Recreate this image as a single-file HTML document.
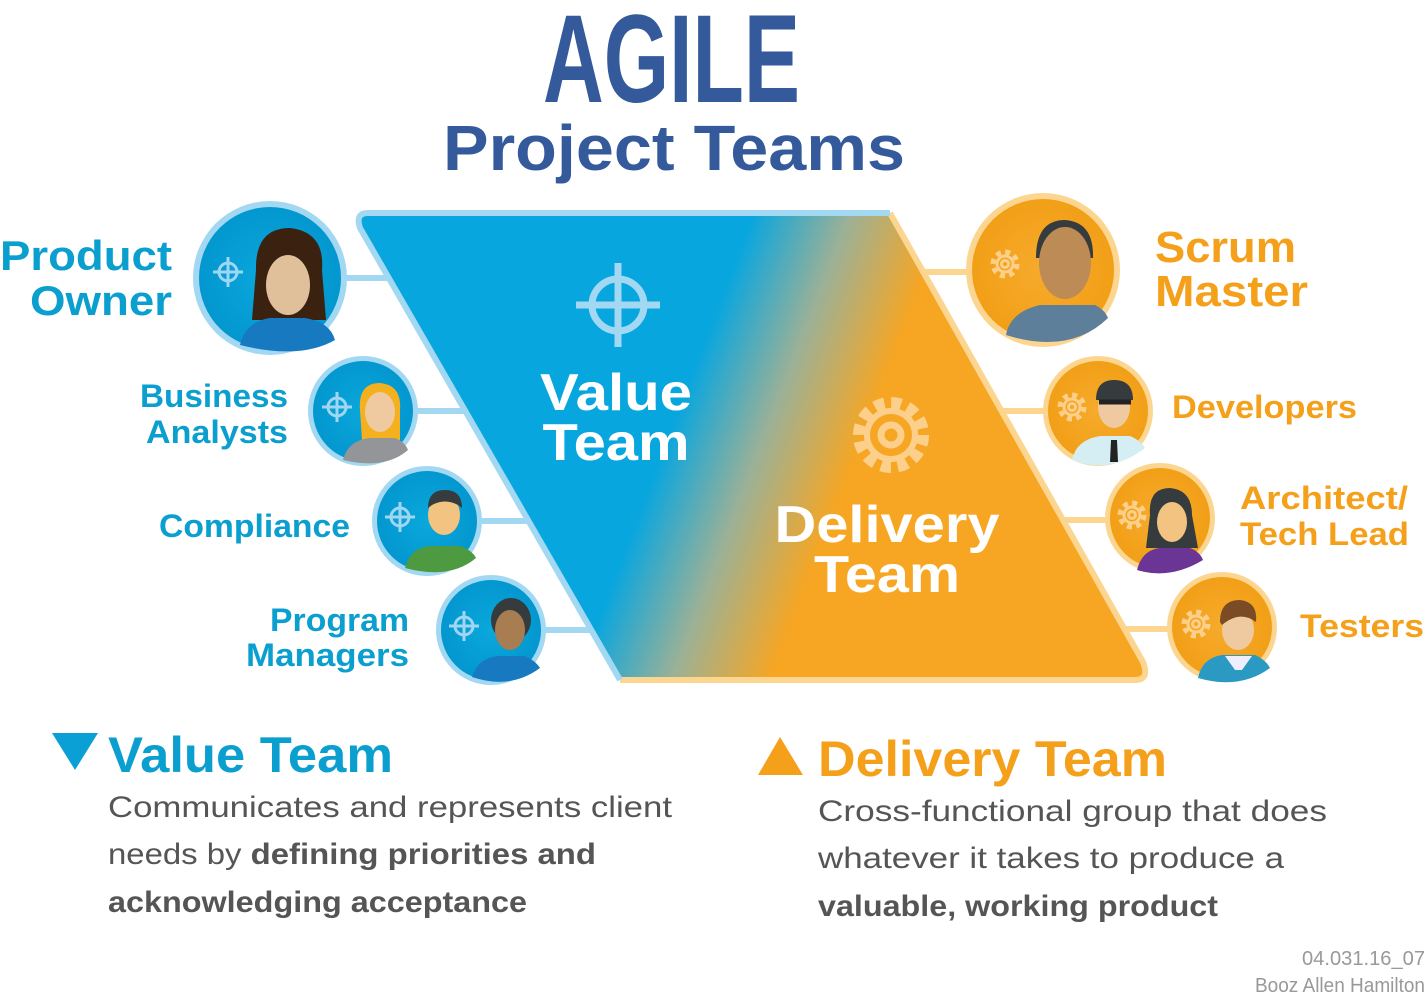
<!DOCTYPE html>
<html><head><meta charset="utf-8"><style>
html,body{margin:0;padding:0;background:#fff;}
svg{display:block;font-family:"Liberation Sans",sans-serif;font-weight:bold;}
</style></head><body>
<svg width="1428" height="994" viewBox="0 0 1428 994" xmlns="http://www.w3.org/2000/svg">
<defs>
<linearGradient id="g" gradientUnits="userSpaceOnUse" x1="680" y1="405" x2="850" y2="470">
<stop offset="0" stop-color="#08a6df"/><stop offset="0.5" stop-color="#9cb196"/><stop offset="1" stop-color="#f6a623"/></linearGradient>
<radialGradient id="bl" cx="0.5" cy="0.5" r="0.5"><stop offset="0" stop-color="#0aa8dc"/><stop offset="1" stop-color="#0397cf"/></radialGradient>
<radialGradient id="or" cx="0.5" cy="0.5" r="0.5"><stop offset="0" stop-color="#f6ab2c"/><stop offset="1" stop-color="#f29f17"/></radialGradient>
<g id="tgt" fill="none" stroke="#9fd6f2" stroke-width="3"><circle r="9"/><path d="M-15 0H15M0-15V15"/></g>
<g id="gear" fill="none" stroke="#fcd08a"><circle r="12" stroke-dasharray="5 4.4" stroke-width="5"/><circle r="8" stroke-width="3"/><circle r="3.5" stroke-width="3"/></g>
</defs>
<!-- Title -->
<text x="543" y="102" font-size="125" fill="#345a9c" textLength="257" lengthAdjust="spacingAndGlyphs">AGILE</text>
<text x="443" y="170" font-size="64" fill="#345a9c" textLength="462" lengthAdjust="spacingAndGlyphs">Project Teams</text>
<!-- connectors -->
<g stroke-width="6">
<path d="M340 278H400M410 411H470M475 521H530M540 630H600" stroke="#a3d8f3"/>
<path d="M920 272H970M1000 411H1050M1065 520H1110M1125 629H1170" stroke="#fcd690"/>
</g>
<!-- parallelogram -->
<path d="M368 213H890L1143 662Q1150 680 1135 680H620L360 228Q355 213 368 213Z" fill="url(#g)"/>
<path d="M890 213L1143 662Q1150 680 1135 680H620" fill="none" stroke="#fcd690" stroke-width="6"/>
<path d="M620 680L360 228Q355 213 368 213H890" fill="none" stroke="#a3d8f3" stroke-width="6"/>
<g transform="translate(618,305)" fill="none" stroke="#a3d8f3" stroke-width="7"><circle r="26"/><path d="M-42 0H42M0-42V42"/></g>
<g transform="translate(891,435)" fill="none" stroke="#fcd08a"><circle r="32" stroke-dasharray="10 6.75" stroke-width="12"/><circle r="24" stroke-width="6"/><circle r="10" stroke-width="7"/></g>
<text font-size="52" fill="#fff" text-anchor="middle"><tspan x="616" y="410" textLength="152" lengthAdjust="spacingAndGlyphs">Value</tspan></text>
<text font-size="52" fill="#fff" text-anchor="middle"><tspan x="616" y="460" textLength="147" lengthAdjust="spacingAndGlyphs">Team</tspan></text>
<text font-size="52" fill="#fff" text-anchor="middle"><tspan x="887" y="542" textLength="225" lengthAdjust="spacingAndGlyphs">Delivery</tspan></text>
<text font-size="52" fill="#fff" text-anchor="middle"><tspan x="887" y="592" textLength="146" lengthAdjust="spacingAndGlyphs">Team</tspan></text>
<!-- left avatars -->
<g>
<circle cx="270" cy="278" r="77" fill="#a3d8f3"/><circle cx="270" cy="278" r="71" fill="url(#bl)"/>
<use href="#tgt" x="228" y="272"/>
<path d="M256 270Q255 228 290 228Q325 232 322 270L326 320H252Z" fill="#3b2110"/>
<ellipse cx="288" cy="285" rx="22" ry="30" fill="#e0c09a"/>
<path d="M240 345Q245 322 270 318H305Q330 322 335 340Q300 360 240 345Z" fill="#1779c0"/>
</g>
<g>
<circle cx="363" cy="411" r="55" fill="#a3d8f3"/><circle cx="363" cy="411" r="50" fill="url(#bl)"/>
<use href="#tgt" x="337" y="407"/>
<path d="M360 410Q358 383 380 383Q402 385 400 410L400 440H362Z" fill="#f5b01f"/>
<ellipse cx="380" cy="412" rx="15" ry="20" fill="#efcaa0"/>
<path d="M343 460Q348 440 370 438H395Q405 442 408 450Q385 470 343 460Z" fill="#939598"/>
</g>
<g>
<circle cx="427" cy="521" r="55" fill="#a3d8f3"/><circle cx="427" cy="521" r="50" fill="url(#bl)"/>
<use href="#tgt" x="400" y="517"/>
<ellipse cx="444" cy="515" rx="16" ry="20" fill="#f3c382"/>
<path d="M428 508Q428 490 445 490Q462 490 462 508L458 505Q445 498 432 505Z" fill="#363c3d"/>
<path d="M405 568Q410 548 430 546H460Q472 550 476 558Q450 580 405 568Z" fill="#4d9a41"/>
</g>
<g>
<circle cx="491" cy="630" r="55" fill="#a3d8f3"/><circle cx="491" cy="630" r="50" fill="url(#bl)"/>
<use href="#tgt" x="464" y="626"/>
<ellipse cx="511" cy="620" rx="20" ry="22" fill="#363c3d"/>
<ellipse cx="510" cy="630" rx="15" ry="20" fill="#a87d52"/>
<path d="M472 677Q478 658 498 656H524Q535 660 540 668Q510 690 472 677Z" fill="#1779c0"/>
</g>
<!-- right avatars -->
<g>
<circle cx="1043" cy="270" r="77" fill="#fcd690"/><circle cx="1043" cy="270" r="71" fill="url(#or)"/>
<use href="#gear" x="1005" y="264"/>
<path d="M1036 258Q1036 220 1065 220Q1094 222 1093 258Z" fill="#363c3d"/>
<ellipse cx="1065" cy="263" rx="26" ry="36" fill="#bd8b56"/>
<path d="M1006 335Q1010 312 1040 305H1095Q1105 310 1108 318Q1070 355 1006 335Z" fill="#5e7f99"/>
</g>
<g>
<circle cx="1098" cy="411" r="55" fill="#fcd690"/><circle cx="1098" cy="411" r="50" fill="url(#or)"/>
<use href="#gear" x="1072" y="407"/>
<ellipse cx="1114" cy="407" rx="16" ry="21" fill="#efcaa0"/>
<path d="M1096 400Q1096 380 1114 380Q1133 380 1133 400Z" fill="#363c3d"/>
<path d="M1099 402H1131" stroke="#222" stroke-width="5"/>
<path d="M1072 460Q1076 440 1100 436H1130Q1140 440 1145 448Q1110 475 1072 460Z" fill="#d5eef3"/>
<path d="M1111 440H1117L1118 462H1110Z" fill="#222"/>
</g>
<g>
<circle cx="1160" cy="518" r="55" fill="#fcd690"/><circle cx="1160" cy="518" r="50" fill="url(#or)"/>
<use href="#gear" x="1132" y="515"/>
<path d="M1150 515Q1148 488 1170 488Q1192 490 1192 515L1198 548H1146Z" fill="#363c3d"/>
<ellipse cx="1172" cy="522" rx="15" ry="20" fill="#f3c382"/>
<path d="M1137 570Q1142 550 1160 548H1190Q1200 552 1203 560Q1170 580 1137 570Z" fill="#6a3595"/>
</g>
<g>
<circle cx="1222" cy="627" r="55" fill="#fcd690"/><circle cx="1222" cy="627" r="50" fill="url(#or)"/>
<use href="#gear" x="1196" y="624"/>
<ellipse cx="1238" cy="630" rx="16" ry="20" fill="#efcaa0"/>
<path d="M1220 622Q1220 600 1240 600Q1258 602 1256 622Q1240 610 1222 625Z" fill="#7a4b24"/>
<path d="M1198 678Q1202 658 1222 655H1255Q1266 660 1270 668Q1240 690 1198 678Z" fill="#2a9ac2"/>
<path d="M1225 656H1252L1242 670H1235Z" fill="#eef"/>
</g>
<!-- side labels -->
<g fill="#0a9fcf" font-size="42" text-anchor="end">
<text x="172" y="270" textLength="172" lengthAdjust="spacingAndGlyphs">Product</text>
<text x="172" y="315" textLength="142" lengthAdjust="spacingAndGlyphs">Owner</text>
</g>
<g fill="#0a9fcf" font-size="32" text-anchor="end">
<text x="288" y="407" textLength="148" lengthAdjust="spacingAndGlyphs">Business</text>
<text x="288" y="443" textLength="142" lengthAdjust="spacingAndGlyphs">Analysts</text>
<text x="350" y="537" textLength="191" lengthAdjust="spacingAndGlyphs">Compliance</text>
<text x="409" y="631" textLength="139" lengthAdjust="spacingAndGlyphs">Program</text>
<text x="409" y="666" textLength="163" lengthAdjust="spacingAndGlyphs">Managers</text>
</g>
<g fill="#f5a01a">
<text x="1155" y="262" font-size="44" textLength="141" lengthAdjust="spacingAndGlyphs">Scrum</text>
<text x="1155" y="306" font-size="44" textLength="153" lengthAdjust="spacingAndGlyphs">Master</text>
<text x="1172" y="418" font-size="32" textLength="185" lengthAdjust="spacingAndGlyphs">Developers</text>
<text x="1240" y="509" font-size="32" textLength="168" lengthAdjust="spacingAndGlyphs">Architect/</text>
<text x="1240" y="545" font-size="32" textLength="169" lengthAdjust="spacingAndGlyphs">Tech Lead</text>
<text x="1300" y="637" font-size="32" textLength="124" lengthAdjust="spacingAndGlyphs">Testers</text>
</g>
<!-- bottom legend -->
<path d="M52 733H98L75 770Z" fill="#0aa0d6"/>
<text x="108" y="772" font-size="50" fill="#0a9fcf" textLength="285" lengthAdjust="spacingAndGlyphs">Value Team</text>
<g font-size="30" fill="#555" font-weight="normal">
<text x="108" y="817" textLength="564" lengthAdjust="spacingAndGlyphs">Communicates and represents client</text>
<text x="108" y="864" textLength="488" lengthAdjust="spacingAndGlyphs">needs by <tspan font-weight="bold">defining priorities and</tspan></text>
<text x="108" y="912" font-weight="bold" textLength="419" lengthAdjust="spacingAndGlyphs">acknowledging acceptance</text>
</g>
<path d="M758 775H803L780 737Z" fill="#f5a01a"/>
<text x="818" y="776" font-size="50" fill="#f5a01a" textLength="349" lengthAdjust="spacingAndGlyphs">Delivery Team</text>
<g font-size="30" fill="#555" font-weight="normal">
<text x="818" y="821" textLength="509" lengthAdjust="spacingAndGlyphs">Cross-functional group that does</text>
<text x="818" y="868" textLength="466" lengthAdjust="spacingAndGlyphs">whatever it takes to produce a</text>
<text x="818" y="916" font-weight="bold" textLength="400" lengthAdjust="spacingAndGlyphs">valuable, working product</text>
</g>
<g font-size="20" fill="#999" font-weight="normal" text-anchor="end">
<text x="1425" y="965" textLength="123" lengthAdjust="spacingAndGlyphs">04.031.16_07</text>
<text x="1425" y="992" textLength="170" lengthAdjust="spacingAndGlyphs">Booz Allen Hamilton</text>
</g>
</svg>
</body></html>
